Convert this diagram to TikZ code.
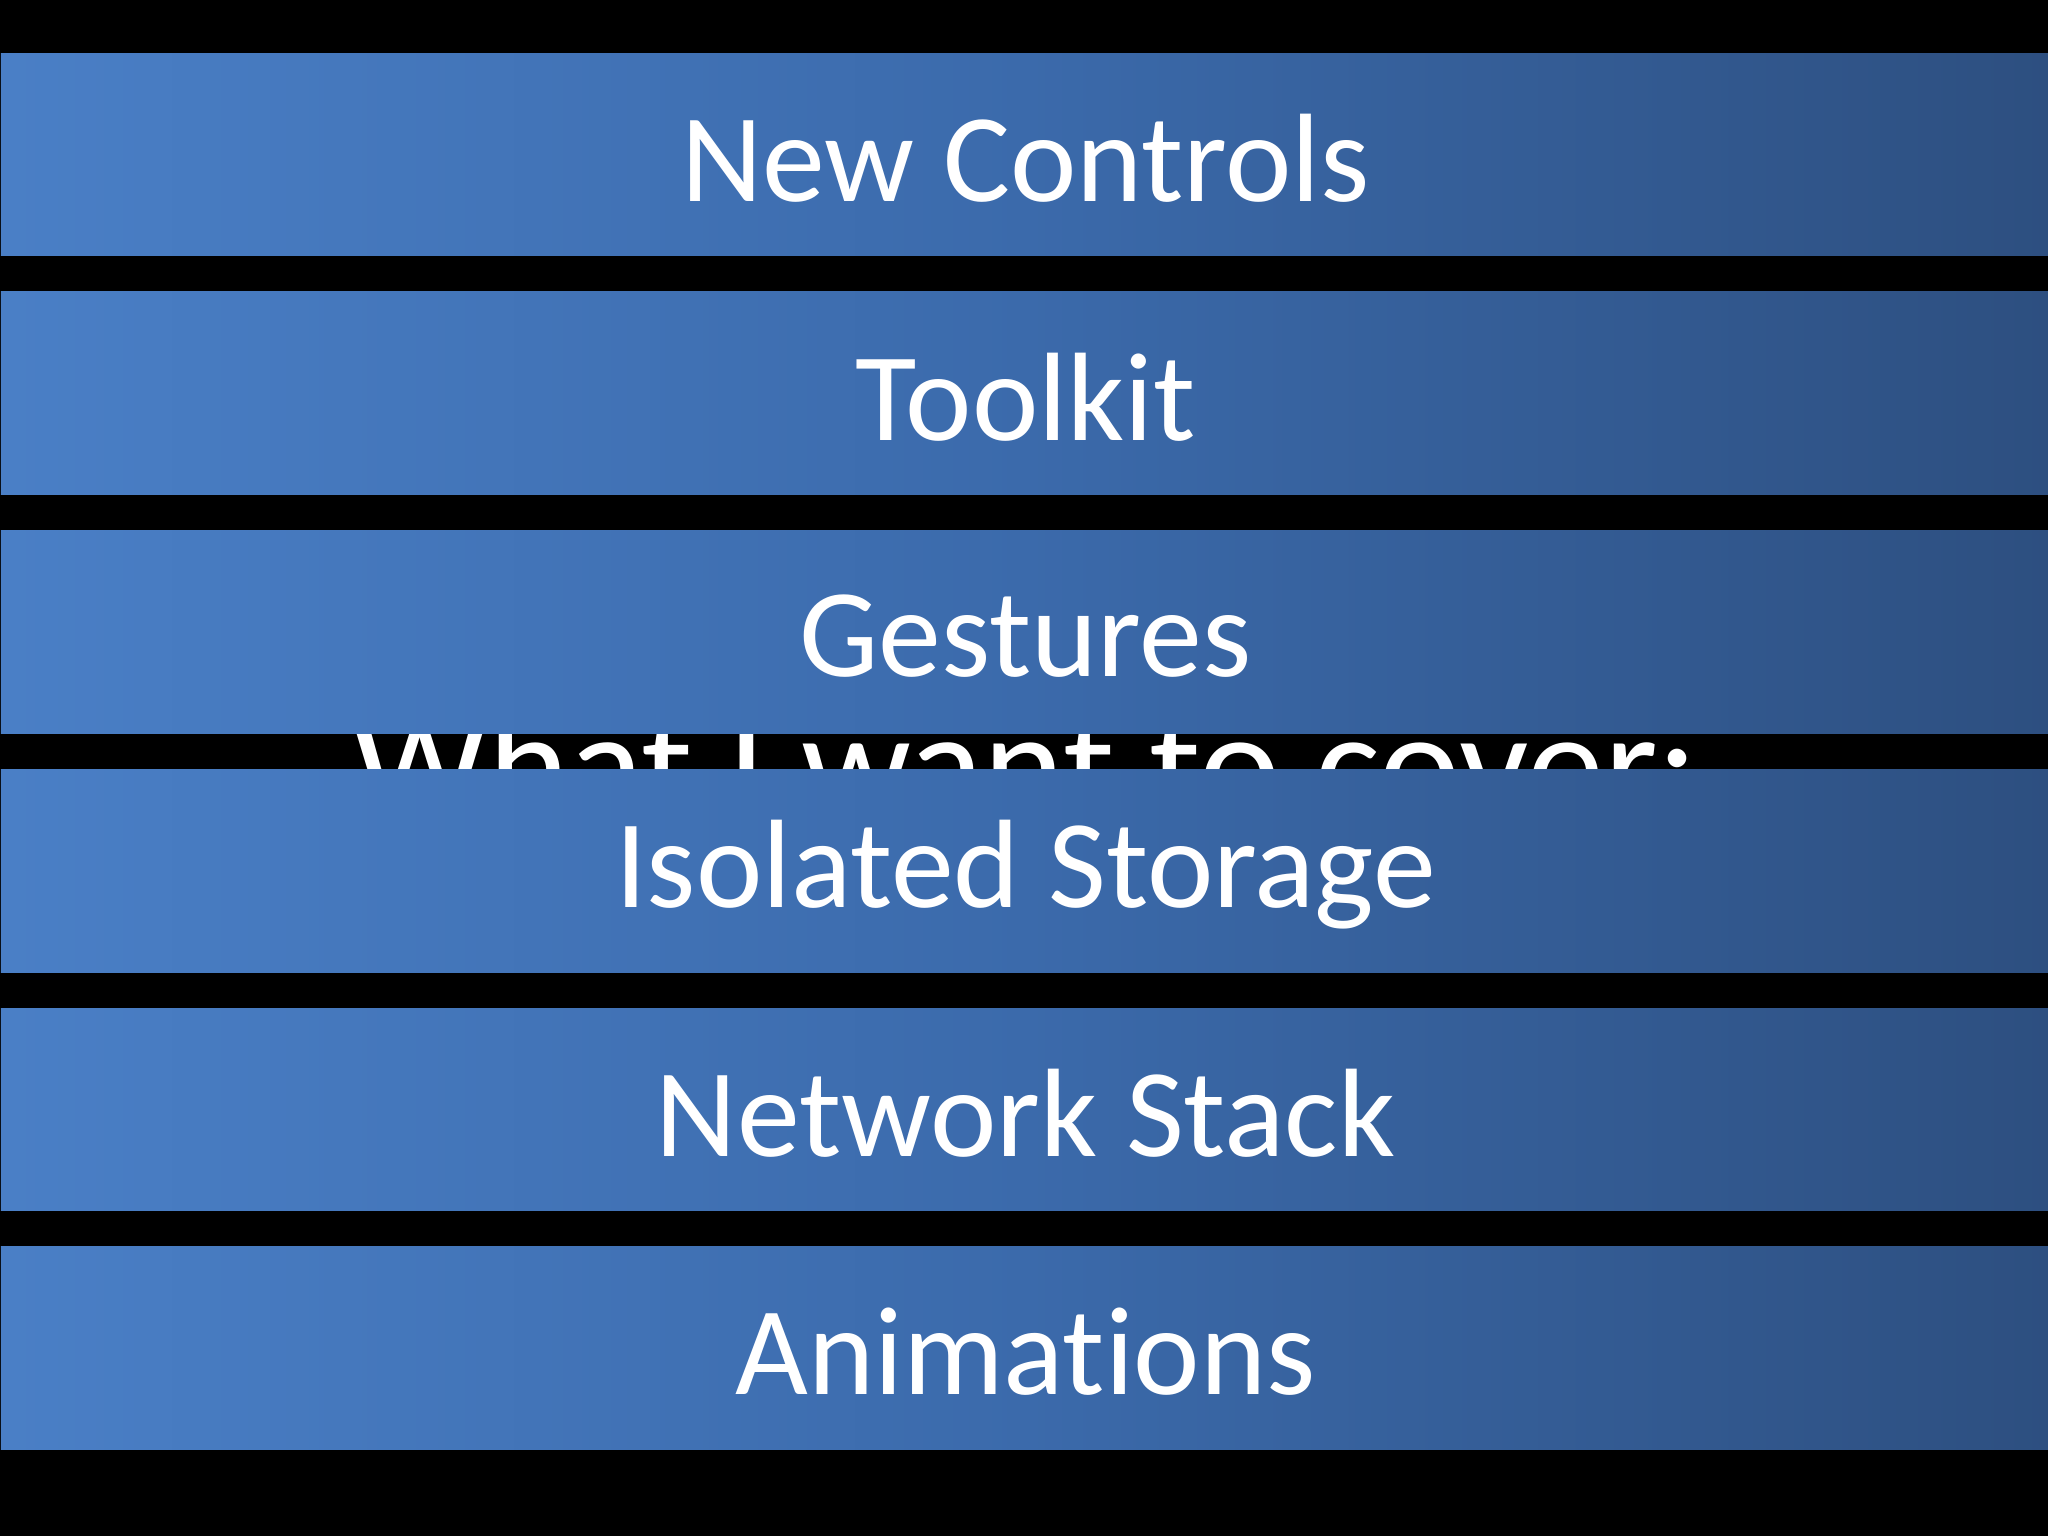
\documentclass[tikz,border=0pt]{standalone}
\usepackage{fontspec}
\setmainfont[Ligatures=NoCommon]{Carlito}
\definecolor{bandL}{HTML}{4A7FC6}
\definecolor{bandM}{HTML}{3B6AAB}
\definecolor{bandR}{HTML}{2D4F80}
\begin{document}
\begin{tikzpicture}[x=0.01cm,y=-0.01cm,
  band/.style={minimum width=15.68cm,minimum height=1.55cm,inner sep=0pt,
    left color=bandL,right color=bandR,middle color=bandM,anchor=north west},
  lbl/.style={text=white,font=\fontsize{27.4}{32}\selectfont}]
\useasboundingbox[fill=black] (0,0) rectangle (1568,1176);
\begin{scope}
\clip (0,560) rectangle (1568,590);
\node[text=white,font=\fontsize{33.5}{40}\selectfont,anchor=base] (hid) at (785,626) {What I want to cover:};
\end{scope}
\node[band] (b1) at (0,40) {};
\node[band] (b2) at (0,222.8) {};
\node[band] (b3) at (0,405.6) {};
\node[band] (b4) at (0,588.4) {};
\node[band] (b5) at (0,771.2) {};
\node[band] (b6) at (0,954) {};
\foreach \n/\t in {b1/New Controls,b2/Toolkit,b3/Gestures,b4/Isolated Storage,b5/Network Stack,b6/Animations}
  \node[lbl] (t\n) at ([yshift=-0.03cm]\n.center) {\t};
\end{tikzpicture}
\end{document}
